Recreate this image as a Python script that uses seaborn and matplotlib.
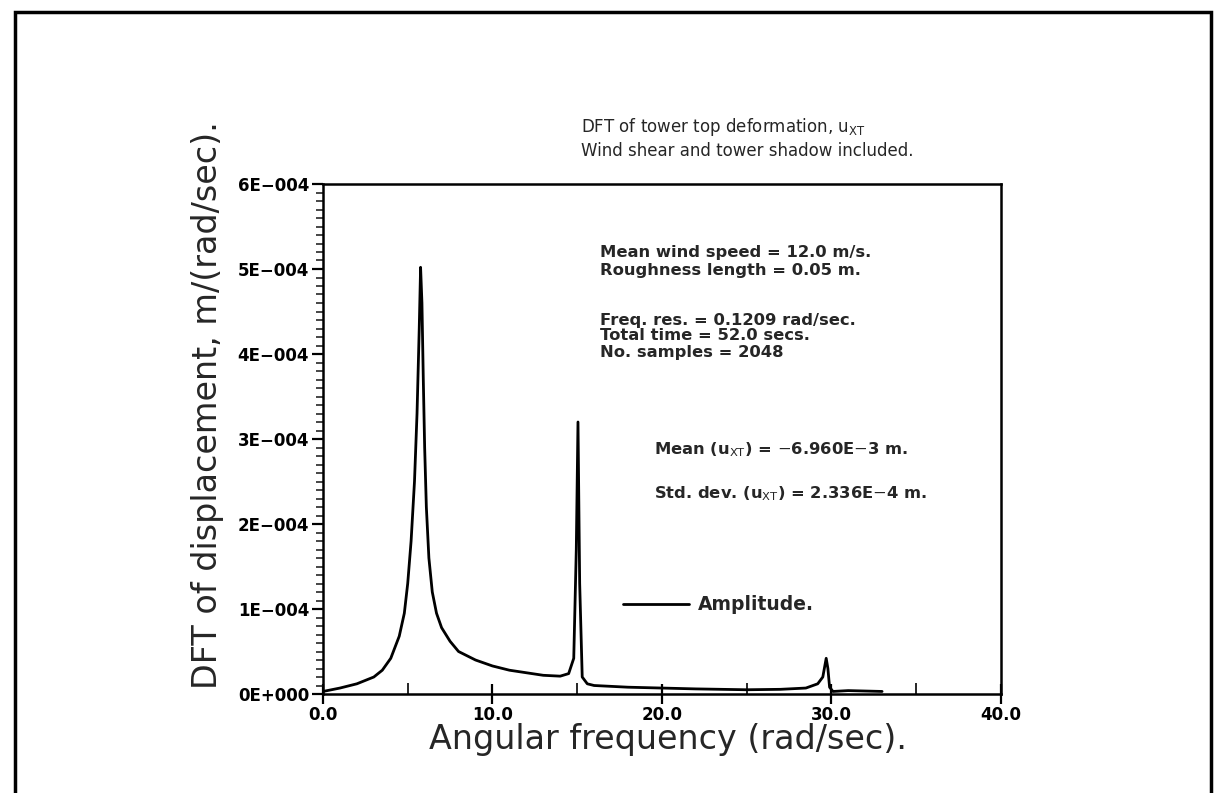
import matplotlib
matplotlib.use("Agg")
import matplotlib.pyplot as plt
import seaborn as sns
import pandas as pd
from matplotlib.patches import Rectangle
from matplotlib.ticker import MultipleLocator, FuncFormatter

# ---- data ----
freq = [0.0, 1.0, 2.0, 3.0, 3.5, 4.0, 4.5, 4.8, 5.0, 5.2, 5.4, 5.55, 5.68, 5.76,
        5.84, 5.92, 6.0, 6.1, 6.25, 6.45, 6.7, 7.0, 7.5, 8.0, 9.0, 10.0, 11.0,
        12.0, 13.0, 14.0, 14.5, 14.8, 14.95, 15.05, 15.15, 15.3, 15.6, 16.0,
        18.0, 20.0, 22.0, 25.0, 27.0, 28.5, 29.2, 29.5, 29.7, 29.8, 29.9, 30.1,
        31.0, 32.0, 33.0]
amp_e4 = [0.03, 0.07, 0.12, 0.20, 0.28, 0.42, 0.68, 0.95, 1.30, 1.80, 2.50, 3.30,
          4.30, 5.02, 4.60, 3.70, 2.90, 2.20, 1.60, 1.20, 0.95, 0.78, 0.62, 0.50,
          0.40, 0.33, 0.28, 0.25, 0.22, 0.21, 0.24, 0.42, 1.70, 3.20, 1.30, 0.20,
          0.12, 0.10, 0.08, 0.07, 0.06, 0.05, 0.055, 0.07, 0.12, 0.20, 0.42, 0.30,
          0.08, 0.03, 0.04, 0.035, 0.03]
amplitude = [v * 1e-4 for v in amp_e4]
y_ticks = [0, 1e-4, 2e-4, 3e-4, 4e-4, 5e-4, 6e-4]
x_ticks = [0, 10, 20, 30, 40]

df = pd.DataFrame({"freq": freq, "amp": amplitude})

W, H = 1214, 793
sns.set_theme(style="ticks")
plt.rcParams["font.family"] = ["DejaVu Sans"]
fig = plt.figure(figsize=(W / 100, H / 100), dpi=100)
fig.patch.set_facecolor("white")

ax = fig.add_axes([323 / W, 1 - 694 / H, (1000.7 - 323) / W, (694 - 184) / H])
sns.lineplot(data=df, x="freq", y="amp", ax=ax, color="black", linewidth=2.0,
             legend=False)

ax.set_xlim(0, 40)
ax.set_ylim(0, 6e-4)
ax.set_xticks(x_ticks)
ax.set_yticks(y_ticks)
ax.xaxis.set_minor_locator(MultipleLocator(5))
ax.yaxis.set_minor_locator(MultipleLocator(0.1e-4))
ax.xaxis.set_major_formatter(FuncFormatter(lambda v, p: f"{v:.1f}"))

def yfmt(v, p):
    if abs(v) < 1e-12:
        return "0E+000"
    m = int(round(v / 1e-4))
    return f"{m}E\u2212004"
ax.yaxis.set_major_formatter(FuncFormatter(yfmt))

for sp in ax.spines.values():
    sp.set_visible(True)
    sp.set_linewidth(1.8)
    sp.set_color("black")
ax.tick_params(axis="y", which="major", direction="out", length=8, width=1.6,
               labelsize=12, pad=2, colors="black")
ax.tick_params(axis="y", which="minor", direction="out", length=5, width=1.2)
ax.tick_params(axis="x", which="major", direction="inout", length=14, width=1.6,
               labelsize=12, pad=2, colors="black")
ax.tick_params(axis="x", which="minor", direction="in", length=8, width=1.4)
for lab in ax.get_xticklabels() + ax.get_yticklabels():
    lab.set_fontweight("bold")
ax.set_xlabel("")
ax.set_ylabel("")
ax.grid(False)

def ft(x, y, s, **kw):
    fig.text(x / W, 1 - y / H, s, **kw)

ft(668, 739, "Angular frequency (rad/sec).", fontsize=24, ha="center", va="center")
ft(208, 405, "DFT of displacement, m/(rad/sec).", fontsize=24, ha="center",
   va="center", rotation=90)

ft(581, 127, r"DFT of tower top deformation, u$_{\mathrm{XT}}$", fontsize=12,
   ha="left", va="center")
ft(581, 151, "Wind shear and tower shadow included.", fontsize=12, ha="left",
   va="center")

ann = dict(fontsize=11.8, ha="left", va="center", fontweight="semibold")
ft(600, 252, "Mean wind speed = 12.0 m/s.", **ann)
ft(600, 270, "Roughness length = 0.05 m.", **ann)
ft(600, 320, "Freq. res. = 0.1209 rad/sec.", **ann)
ft(600, 336, "Total time = 52.0 secs.", **ann)
ft(600, 353, "No. samples = 2048", **ann)
ft(654, 450, r"Mean (u$_{\mathrm{XT}}$) = $-$6.960E$-$3 m.", **ann)
ft(654, 494, r"Std. dev. (u$_{\mathrm{XT}}$) = 2.336E$-$4 m.", **ann)

# legend
leg_line = plt.Line2D([623 / W, 689 / W], [1 - 604 / H, 1 - 604 / H],
                      transform=fig.transFigure, color="black", linewidth=2.0)
fig.lines.append(leg_line)
ft(698, 604, "Amplitude.", fontsize=13.5, fontweight="bold", ha="left", va="center")

# outer frame
fig.patches.append(Rectangle((15 / W, -0.02), (1211 - 15) / W, 1.02 - 12 / H,
                             transform=fig.transFigure, fill=False,
                             edgecolor="black", linewidth=2.5))

fig.savefig("out.png", dpi=100, facecolor="white")
